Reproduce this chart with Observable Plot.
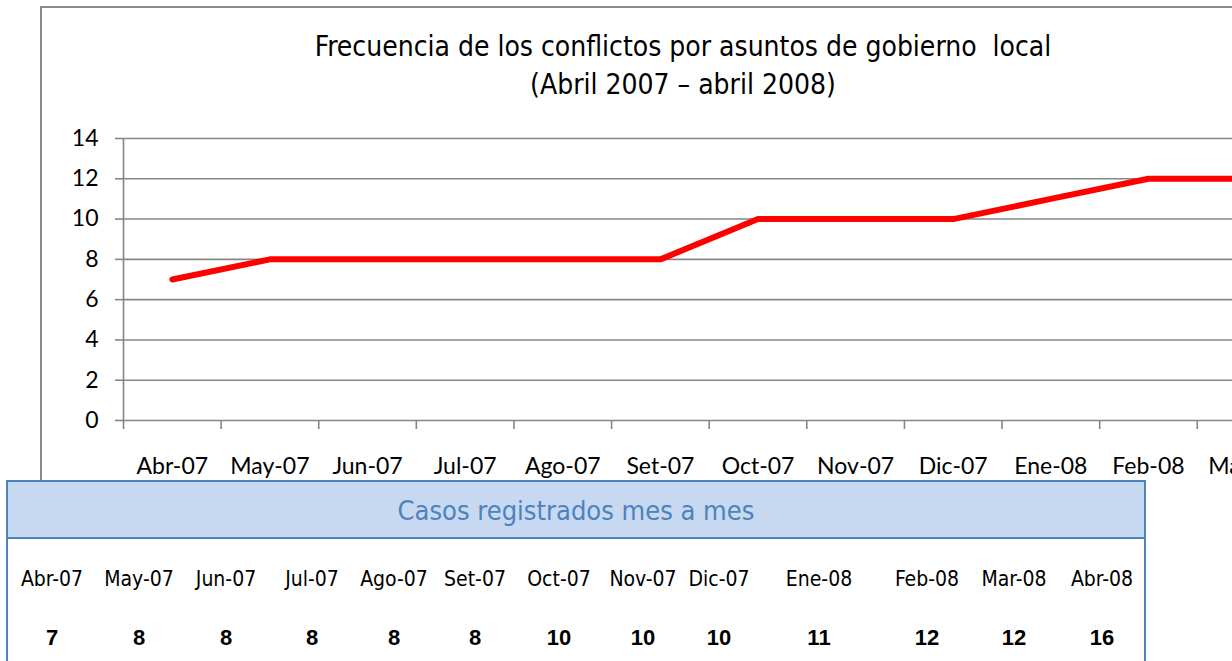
<!DOCTYPE html>
<html><head><meta charset="utf-8">
<script src="https://cdn.jsdelivr.net/npm/d3@7"></script>
<script src="https://cdn.jsdelivr.net/npm/@observablehq/plot@0.6"></script>
<style>
html,body{margin:0;padding:0;width:1232px;height:661px;overflow:hidden;background:#fff;}
#wrap{position:relative;width:1232px;height:661px;overflow:hidden;}
#chart{position:absolute;left:0;top:0;width:1420px}
#chart svg{max-width:none !important;}
#frame{position:absolute;left:40px;top:6px;width:1420px;height:800px;border:2px solid #8a8a8a;box-sizing:border-box;pointer-events:none}
#title{position:absolute;left:233px;width:900px;top:28px;text-align:center;font-family:"Liberation Sans Narrow","DejaVu Sans Condensed",sans-serif;font-size:28px;line-height:38px;color:#000}
#table{position:absolute;left:6px;top:480px;width:1140px;height:300px;border:2px solid #4f81bd;box-sizing:border-box;background:#fff}
#thead{height:57px;background:#c6d9f1;border-bottom:2px solid #4f81bd;box-sizing:border-box;text-align:center;color:#4f81bd;font-family:"Liberation Sans Narrow","DejaVu Sans Condensed",sans-serif;font-size:27px;line-height:57px}
.cell{position:absolute;width:110px;text-align:center;font-family:"Liberation Sans Narrow","DejaVu Sans Condensed",sans-serif;color:#000}
.lab{font-size:21px;}
.val{font-size:22px;font-weight:bold;font-family:"Liberation Sans","DejaVu Sans",sans-serif}
</style>
</head><body>
<div id="wrap">
  <div id="chart"></div>
  <div id="frame"></div>
  <div id="title">Frecuencia de los conflictos por asuntos de gobierno&nbsp; local<br>(Abril 2007 – abril 2008)</div>
  <div id="table"><div id="thead">Casos registrados mes a mes</div></div>
</div>
<script>
// Data
const months = ["Abr-07","May-07","Jun-07","Jul-07","Ago-07","Set-07","Oct-07","Nov-07","Dic-07","Ene-08","Feb-08","Mar-08","Abr-08"];
const cases = [7, 8, 8, 8, 8, 8, 10, 10, 10, 11, 12, 12, 16];
const yTicks = [0, 2, 4, 6, 8, 10, 12, 14];

// Layout of the summary table (column centres, px from table's left edge)
const tableCenters = [44, 131, 218, 304, 386, 467, 551, 635, 711, 811, 919, 1006, 1094];

const data = months.map((m, i) => ({pos: i + 0.5, month: m, value: cases[i]}));
const bounds = d3.range(months.length + 1);

const chart = Plot.plot({
  width: 1420, height: 490,
  marginLeft: 123, marginRight: 28, marginTop: 138, marginBottom: 70,
  style: {background: "transparent", fontFamily: "Lato, 'Open Sans', sans-serif", fontSize: "23px", color: "#000", maxWidth: "none"},
  x: {domain: [0, months.length], axis: null},
  y: {domain: [0, 14], axis: null},
  marks: [
    Plot.gridY(yTicks, {stroke: "#868686", strokeOpacity: 1, strokeWidth: 1.6}),
    Plot.axisY(yTicks, {tickSize: 8, tickPadding: 17, stroke: "#868686", strokeWidth: 1.6, fontSize: 23, label: null}),
    Plot.ruleX([0], {stroke: "#868686", strokeWidth: 1.6}),
    Plot.axisX(bounds, {tickSize: 9, tickFormat: () => "", stroke: "#868686", strokeWidth: 1.6, label: null}),
    Plot.axisX(data.map(d => d.pos), {tickSize: 0, tickPadding: 37, tickFormat: v => months[Math.floor(v)], fontSize: 23, label: null}),
    Plot.line(data, {x: "pos", y: "value", stroke: "#ff0000", strokeWidth: 6, strokeLinejoin: "round", strokeLinecap: "round"})
  ]
});
document.getElementById("chart").appendChild(chart);

const table = document.getElementById("table");
months.forEach((m, i) => {
  const l = document.createElement("div");
  l.className = "cell lab";
  l.style.left = (tableCenters[i] - 55) + "px";
  l.style.top = "85px";
  l.textContent = m;
  table.appendChild(l);
  const v = document.createElement("div");
  v.className = "cell val";
  v.style.left = (tableCenters[i] - 55) + "px";
  v.style.top = "143px";
  v.textContent = cases[i];
  table.appendChild(v);
});
</script>
</body></html>
